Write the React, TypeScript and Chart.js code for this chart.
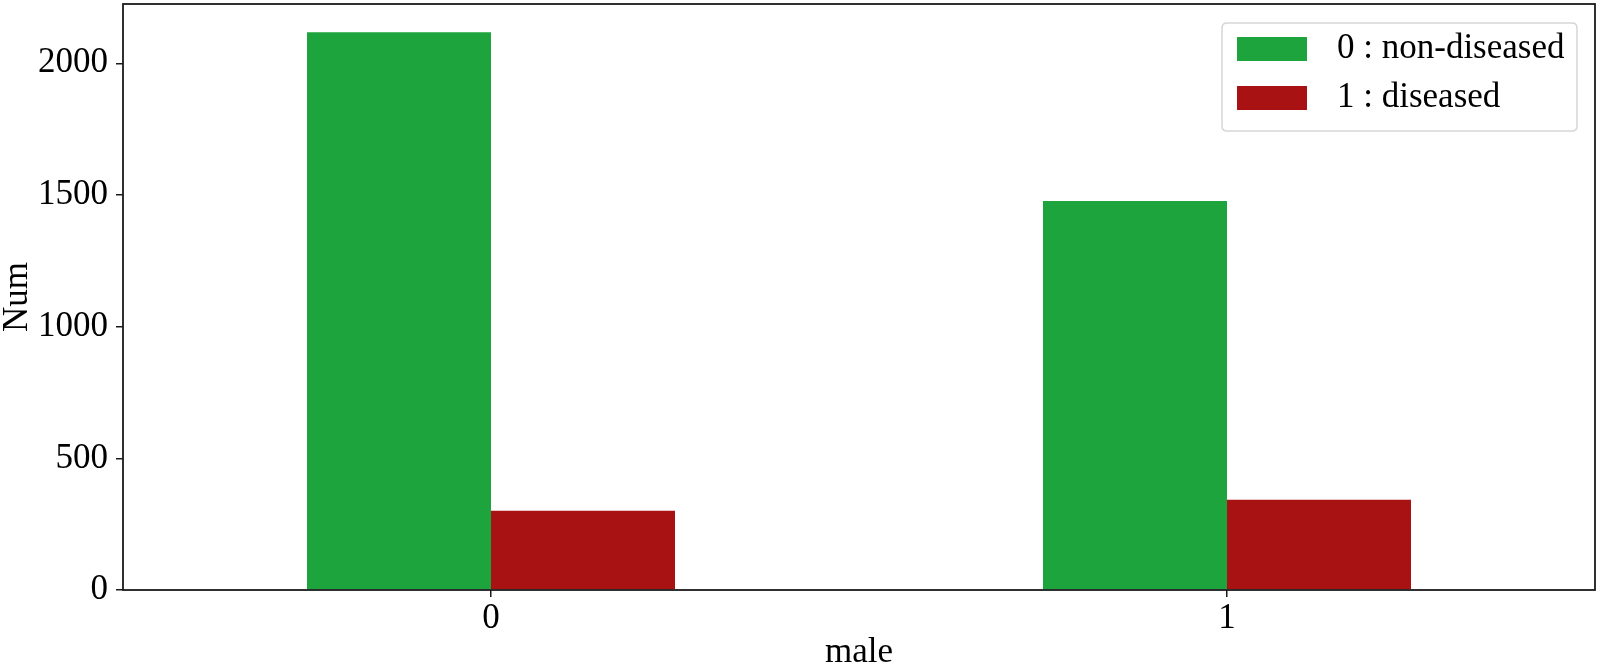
import React, { useEffect, useRef } from "react";
import { Chart, registerables } from "chart.js";

Chart.register(...registerables);

const categories = ["0", "1"];
const nonDiseased = [2118, 1477];
const diseased = [301, 343];
const seriesLabels = ["0 : non-diseased", "1 : diseased"];
const seriesColors = ["#1ea43c", "#a91213"];
const yTickValues = [0, 500, 1000, 1500, 2000];
const yMax = 2225;
const xTitle = "male";
const yTitle = "Num";

const FONT = "'Liberation Serif', 'Times New Roman', serif";

const framePlugin = {
  id: "frameAndLegend",
  afterDatasetsDraw(chart: any) {
    const { ctx, chartArea } = chart;
    ctx.save();
    ctx.strokeStyle = "#1a1a1a";
    ctx.lineWidth = 1.8;
    ctx.strokeRect(chartArea.left, chartArea.top, chartArea.right - chartArea.left, chartArea.bottom - chartArea.top);
    ctx.restore();
  },
  afterDraw(chart: any) {
    const { ctx } = chart;
    ctx.save();
    const bx = 1222, by = 23, bw = 355, bh = 108, r = 5;
    ctx.beginPath();
    ctx.moveTo(bx + r, by);
    ctx.lineTo(bx + bw - r, by);
    ctx.quadraticCurveTo(bx + bw, by, bx + bw, by + r);
    ctx.lineTo(bx + bw, by + bh - r);
    ctx.quadraticCurveTo(bx + bw, by + bh, bx + bw - r, by + bh);
    ctx.lineTo(bx + r, by + bh);
    ctx.quadraticCurveTo(bx, by + bh, bx, by + bh - r);
    ctx.lineTo(bx, by + r);
    ctx.quadraticCurveTo(bx, by, bx + r, by);
    ctx.closePath();
    ctx.fillStyle = "rgba(255,255,255,0.85)";
    ctx.fill();
    ctx.strokeStyle = "#d6d6d6";
    ctx.lineWidth = 1.5;
    ctx.stroke();
    chart.data.datasets.forEach((ds: any, i: number) => {
      const cy = 49 + i * 49;
      ctx.fillStyle = ds.backgroundColor;
      ctx.fillRect(1237, cy - 12, 70, 24);
      ctx.fillStyle = "#000";
      ctx.font = `35px ${FONT}`;
      ctx.textBaseline = "middle";
      ctx.textAlign = "left";
      ctx.fillText(ds.label, 1337, cy);
    });
    ctx.restore();
  },
};

export default function App() {
  const ref = useRef<HTMLCanvasElement>(null);
  useEffect(() => {
    if (!ref.current) return;
    const chart = new Chart(ref.current, {
      type: "bar",
      data: {
        labels: categories,
        datasets: [
          { label: seriesLabels[0], data: nonDiseased, backgroundColor: seriesColors[0], borderWidth: 0 },
          { label: seriesLabels[1], data: diseased, backgroundColor: seriesColors[1], borderWidth: 0 },
        ],
      },
      options: {
        animation: false,
        responsive: false,
        devicePixelRatio: 1,
        layout: { padding: { left: 0, right: 5, top: 4, bottom: 0 } },
        datasets: { bar: { categoryPercentage: 0.5, barPercentage: 1 } },
        plugins: { legend: { display: false }, tooltip: { enabled: false } },
        scales: {
          x: {
            offset: true,
            border: { display: false },
            grid: { drawOnChartArea: false, drawTicks: true, tickLength: 7, color: "#1a1a1a", lineWidth: 1.5, offset: false },
            ticks: { color: "#000", font: { family: FONT, size: 35 }, padding: 1, maxRotation: 0 },
            title: { display: true, text: xTitle, color: "#000", font: { family: FONT, size: 35, lineHeight: 1 }, padding: { top: 0, bottom: 0 } },
            afterFit(scale: any) {
              scale.height = 80;
              scale.paddingLeft = 0;
              scale.paddingRight = 0;
            },
          },
          y: {
            min: 0,
            max: yMax,
            border: { display: false },
            grid: { drawOnChartArea: false, drawTicks: true, tickLength: 7, color: "#1a1a1a", lineWidth: 1.5 },
            ticks: {
              color: "#000",
              font: { family: FONT, size: 35 },
              padding: 8,
              stepSize: 500,
              includeBounds: false,
              callback: (v: any) => String(v),
            },
            afterBuildTicks(scale: any) {
              scale.ticks = yTickValues.map((v) => ({ value: v }));
            },
            title: { display: true, text: yTitle, color: "#000", font: { family: FONT, size: 35, lineHeight: 1 }, padding: { top: 0, bottom: 0 } },
            afterFit(scale: any) {
              scale.width = 123;
              scale.paddingTop = 0;
              scale.paddingBottom = 0;
            },
          },
        },
      },
      plugins: [framePlugin],
    } as any);
    return () => chart.destroy();
  }, []);
  return (
    <div style={{ position: "fixed", left: 0, top: 0, width: 1600, height: 670, background: "#fff" }}>
      <canvas ref={ref} width={1600} height={670} style={{ display: "block", width: 1600, height: 670 }} />
    </div>
  );
}
